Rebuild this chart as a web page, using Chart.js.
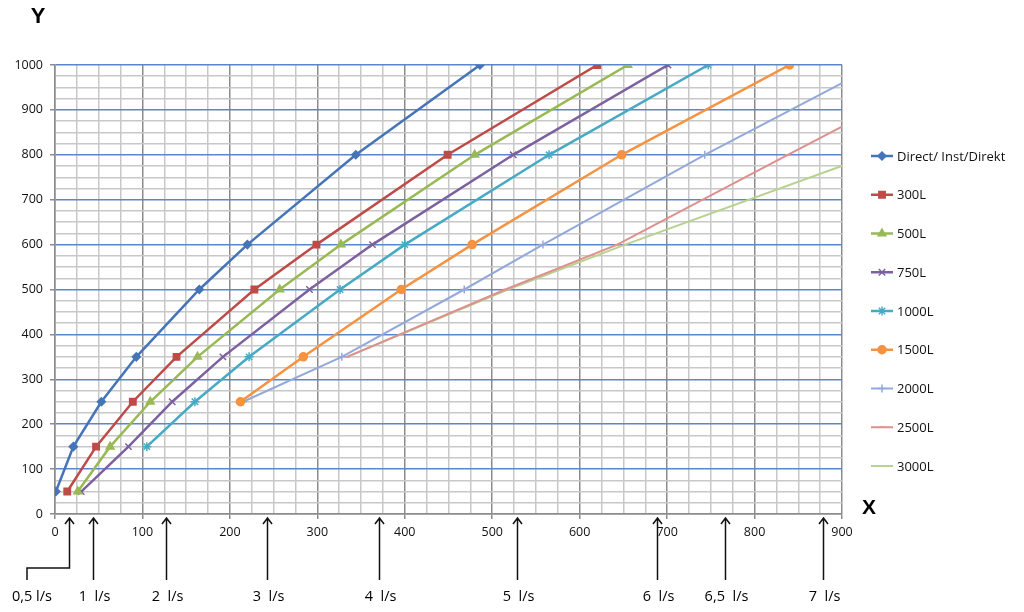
<!DOCTYPE html>
<html>
<head>
<meta charset="utf-8">
<script src="https://cdn.jsdelivr.net/npm/chart.js@4/dist/chart.umd.min.js"></script>
<style>
  html, body { margin: 0; padding: 0; background: #fff; }
  #wrap { width: 1024px; height: 612px; }
</style>
</head>
<body>
<div id="wrap"><canvas id="myChart" width="1024" height="612"></canvas></div>
<script>
// series names (legend order)
const seriesNames = ['Direct/ Inst/Direkt', '300L', '500L', '750L', '1000L', '1500L', '2000L', '2500L', '3000L'];

// Y values per series
const yDirect = [50, 150, 250, 350, 500, 600, 800, 1000];
const y300 = [50, 150, 250, 350, 500, 600, 800, 1000];
const y500 = [50, 150, 250, 350, 500, 600, 800, 1000];
const y750 = [50, 150, 250, 350, 500, 600, 800, 1000];
const y1000 = [150, 250, 350, 500, 600, 800, 1000];
const y1500 = [250, 350, 500, 600, 800, 1000];
const y2000 = [250, 350, 500, 600, 800, 1000];
const y2500 = [350, 500, 600, 800, 1000];
const y3000 = [350, 500, 600, 800, 1000];

// X values per series
const xDirect = [1, 21, 53, 93, 165, 220, 344, 486];
const x300 = [14, 47, 89, 139, 228, 299, 449, 620];
const x500 = [26, 63, 109, 163, 257, 327, 480, 655];
const x750 = [30, 84, 134, 192, 291, 363, 524, 701];
const x1000 = [105, 160, 222, 326, 400, 565, 747];
const x1500 = [212, 284, 396, 477, 648, 840];
const x2000 = [215, 328, 468, 558, 743, 940];
const x2500 = [334, 515, 643, 838, 1035];
const x3000 = [334, 518, 652, 935, 1215];

// flow markers under the X axis
const flowLabels = ['0,5 l/s', '1  l/s', '2  l/s', '3  l/s', '4  l/s', '5  l/s', '6  l/s', '6,5  l/s', '7  l/s'];
const flowX = [16, 43, 127, 242, 370, 528, 688, 766, 878];

const colors = ['#4575B8', '#BE4B48', '#98B954', '#7D60A0', '#46AAC5', '#F69240', '#93A9DA', '#DE908E', '#B8D290'];
const styles = ['rectRot', 'rect', 'triangle', 'crossRot', 'star', 'circle', 'cross', 'line', 'line'];
const radii = [4, 4.5, 4.5, 4.5, 4.5, 4, 4, 3, 0];

const xs = [xDirect, x300, x500, x750, x1000, x1500, x2000, x2500, x3000];
const ys = [yDirect, y300, y500, y750, y1000, y1500, y2000, y2500, y3000];

const datasets = seriesNames.map((name, i) => ({
  label: name,
  data: xs[i].map((x, j) => ({ x: x, y: ys[i][j] })),
  showLine: true,
  borderColor: colors[i],
  backgroundColor: colors[i],
  borderWidth: i < 6 ? 2.5 : 2,
  pointStyle: styles[i],
  pointRadius: radii[i],
  pointBorderWidth: 1.5,
  pointHoverRadius: radii[i]
}));

const FONT = '"Open Sans", "DejaVu Sans", sans-serif';

const extras = {
  id: 'extras',
  afterDraw(chart) {
    const ctx = chart.ctx;
    const area = chart.chartArea;
    const xScale = chart.scales.x;
    ctx.save();

    // axis letters
    ctx.fillStyle = '#000';
    ctx.font = 'bold 22px "Liberation Sans", Arial, sans-serif';
    ctx.textAlign = 'center';
    ctx.textBaseline = 'middle';
    ctx.fillText('Y', 38, 17);
    ctx.font = 'bold 21px "Liberation Sans", Arial, sans-serif';
    ctx.fillText('X', area.right + 27, area.bottom - 6);

    // flow arrows
    ctx.strokeStyle = '#111';
    ctx.lineWidth = 1.5;
    ctx.font = '14.5px ' + FONT;
    const tipY = area.bottom + 4;
    const baseY = area.bottom + 66;
    flowX.forEach((v, i) => {
      const px = Math.round(xScale.getPixelForValue(v)) + 0.5;
      ctx.beginPath();
      if (i === 0) {
        ctx.moveTo(px, tipY);
        ctx.lineTo(px, baseY - 12);
        ctx.lineTo(27, baseY - 12);
        ctx.lineTo(27, baseY);
      } else {
        ctx.moveTo(px, tipY);
        ctx.lineTo(px, baseY);
      }
      ctx.moveTo(px - 4.5, tipY + 6);
      ctx.lineTo(px, tipY);
      ctx.lineTo(px + 4.5, tipY + 6);
      ctx.stroke();
      ctx.fillStyle = '#000';
      const lx = i === 0 ? 32 : px + 1;
      ctx.fillText(flowLabels[i], lx, area.bottom + 83);
    });

    // legend
    ctx.textAlign = 'left';
    ctx.font = '13px ' + FONT;
    chart.data.datasets.forEach((ds, i) => {
      const y = 156 + i * 38.75;
      const x0 = area.right + 29;
      ctx.strokeStyle = ds.borderColor;
      ctx.lineWidth = ds.borderWidth;
      ctx.beginPath();
      ctx.moveTo(x0, y);
      ctx.lineTo(x0 + 22, y);
      ctx.stroke();
      if (ds.pointRadius > 0) {
        ctx.fillStyle = ds.backgroundColor;
        ctx.strokeStyle = ds.borderColor;
        ctx.lineWidth = 1.5;
        Chart.helpers.drawPoint(ctx, {
          pointStyle: ds.pointStyle, rotation: 0,
          radius: ds.pointRadius, borderWidth: 1.5
        }, x0 + 11, y);
      }
      ctx.fillStyle = '#111';
      ctx.fillText(ds.label, x0 + 26, y + 1);
    });
    ctx.restore();
  }
};

const isMajor = (c) => c.tick && Math.round(c.tick.value) % 100 === 0;

const ctx = document.getElementById('myChart').getContext('2d');
const myChart = new Chart(ctx, {
  type: 'scatter',
  data: { datasets: datasets },
  options: {
    responsive: false,
    animation: false,
    events: [],
    layout: { padding: { top: 65, right: 182, left: 0, bottom: 0 } },
    plugins: { legend: { display: false }, tooltip: { enabled: false } },
    scales: {
      x: {
        type: 'linear',
        min: 0, max: 900,
        afterFit: (s) => { s.height = 98; },
        border: { color: '#8c8c8c', width: 1.5 },
        grid: {
          color: (c) => isMajor(c) ? '#8c8c8c' : '#c8c8c8',
          lineWidth: 1.5,
          tickLength: 5,
          tickColor: (c) => isMajor(c) ? '#8c8c8c' : 'rgba(0,0,0,0)'
        },
        ticks: {
          stepSize: 25, autoSkip: false, maxRotation: 0, padding: 6,
          color: '#111', font: { family: FONT, size: 12.5 },
          callback: (v) => v % 100 === 0 ? v : ''
        }
      },
      y: {
        type: 'linear',
        min: 0, max: 1000,
        afterFit: (s) => { s.width = 55; },
        border: { color: '#8c8c8c', width: 1.5 },
        grid: {
          color: (c) => c.tick && c.tick.value === 0 ? '#8c8c8c' : (isMajor(c) ? '#5B87C9' : '#c8c8c8'),
          lineWidth: 1.5,
          tickLength: 5,
          tickColor: (c) => isMajor(c) ? '#8c8c8c' : 'rgba(0,0,0,0)'
        },
        ticks: {
          stepSize: 25, autoSkip: false, padding: 7,
          color: '#111', font: { family: FONT, size: 12.5 },
          callback: (v) => v % 100 === 0 ? v : ''
        }
      }
    }
  },
  plugins: [extras]
});
</script>
</body>
</html>
